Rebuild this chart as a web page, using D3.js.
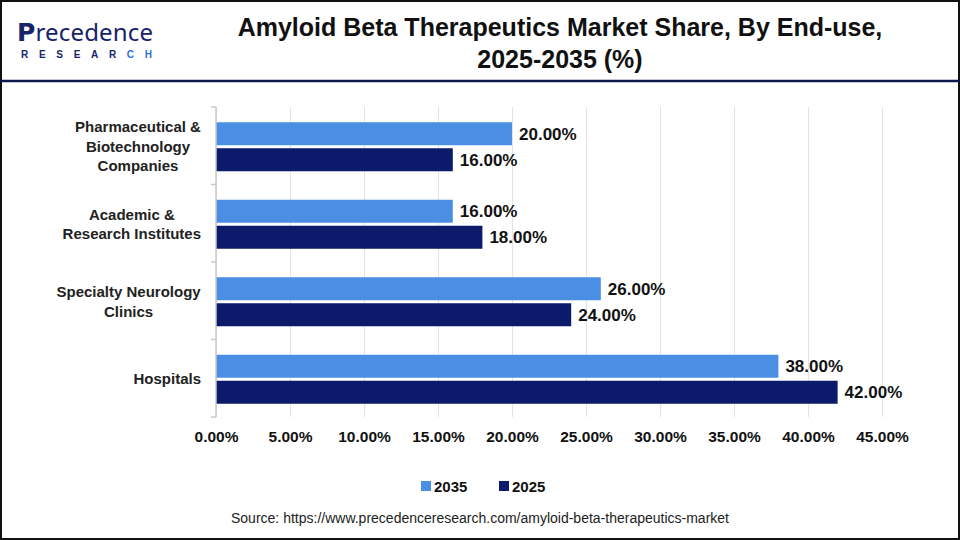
<!DOCTYPE html>
<html lang="en">
<head>
  <meta charset="UTF-8">
  <title>Amyloid Beta Therapeutics Market Share</title>
  <script src="https://d3js.org/d3.v7.min.js"></script>
  <style>
    body { margin: 0; background: #fff; }
    text { font-family: Arial, "Liberation Sans", sans-serif; }
    .gridlines .domain { stroke: none; }
    .gridlines line { stroke: #e3e3e3; }
  </style>
</head>
<body>
  <svg id="svg1" width="960" height="540"></svg>
  <script>
    // data
    const categories = [
      ["Pharmaceutical &", "Biotechnology", "Companies"],
      ["Academic &", "Research Institutes"],
      ["Specialty Neurology", "Clinics"],
      ["Hospitals"]
    ];
    const years = ["2035", "2025"];
    const values2035 = [20, 16, 26, 38];
    const values2025 = [16, 18, 24, 42];
    const tickValues = [0, 5, 10, 15, 20, 25, 30, 35, 40, 45];
    const colors = ["#4a8fe3", "#0c1a6b"];

    let svg1 = d3.select("svg#svg1");
    let width = 960, height = 540;
    let margin = {top: 107, left: 216, right: 78, bottom: 123};
    let chartWidth = width - margin.left - margin.right;   // 666
    let chartHeight = height - margin.top - margin.bottom; // 310

    // frame
    svg1.append("rect").attr("x", 1).attr("y", 1).attr("width", width - 2).attr("height", height - 2)
        .attr("fill", "none").attr("stroke", "#111").attr("stroke-width", 2);
    svg1.append("line").attr("x1", 1).attr("x2", width - 1).attr("y1", 81).attr("y2", 81)
        .attr("stroke", "#0c1a4d").attr("stroke-width", 2.5);

    // logo
    let logo = svg1.append("g").attr("id", "logo");
    let logoTop = logo.append("text").attr("x", 17).attr("y", 41)
        .attr("fill", "#16236b").attr("textLength", 136);
    logoTop.append("tspan").style("font", "bold 25px 'DejaVu Sans', sans-serif").text("P");
    logoTop.append("tspan").style("font", "24px 'Noto Sans', sans-serif").text("recedence");
    let logoBottom = logo.append("text").attr("x", 21).attr("y", 58)
        .style("font", "bold 10px Arial, sans-serif").attr("textLength", 131);
    logoBottom.append("tspan").attr("fill", "#16236b").text("RESEAR");
    logoBottom.append("tspan").attr("fill", "#2f6fd8").text("CH");

    // title
    svg1.append("text").attr("x", 560).attr("y", 36).attr("text-anchor", "middle")
        .style("font", "bold 25px Arial, sans-serif").attr("fill", "#111")
        .text("Amyloid Beta Therapeutics Market Share, By End-use,");
    svg1.append("text").attr("x", 560).attr("y", 68).attr("text-anchor", "middle")
        .style("font", "bold 25px Arial, sans-serif").attr("fill", "#111")
        .text("2025-2035 (%)");

    const xScale = d3.scaleLinear().domain([0, 45]).range([0, chartWidth]);
    const yScale = d3.scaleBand().domain(d3.range(categories.length)).range([0, chartHeight])
                     .paddingInner(0).paddingOuter(0);
    const barH = 23, barGap = 3;

    let chartArea = svg1.append("g").attr("transform", `translate(${margin.left},${margin.top})`);

    // gridlines
    chartArea.append("g").attr("class", "gridlines")
        .attr("transform", `translate(0,${chartHeight})`)
        .call(d3.axisBottom(xScale).tickValues(tickValues).tickFormat("").tickSize(-chartHeight));

    // bars
    const series = [values2035, values2025];
    series.forEach((vals, s) => {
      vals.forEach((v, i) => {
        let y = yScale(i) + (yScale.bandwidth() - 2 * barH - barGap) / 2 + 1 + s * (barH + barGap);
        chartArea.append("rect")
            .attr("x", 0).attr("y", y)
            .attr("width", xScale(v)).attr("height", barH)
            .attr("fill", colors[s]);
        chartArea.append("text")
            .attr("x", xScale(v) + 7).attr("y", y + barH / 2 + 6)
            .style("font", "bold 17px Arial, sans-serif").attr("fill", "#111")
            .text(v.toFixed(2) + "%");
      });
    });

    // y axis
    let leftAxis = chartArea.append("g");
    leftAxis.append("line").attr("x1", 0).attr("x2", 0).attr("y1", 0).attr("y2", chartHeight)
        .attr("stroke", "#c8c8c8").attr("stroke-width", 1.5);
    d3.range(categories.length + 1).forEach(i => {
      let y = i < categories.length ? yScale(i) : chartHeight;
      leftAxis.append("line").attr("x1", -5).attr("x2", 0).attr("y1", y).attr("y2", y)
          .attr("stroke", "#c8c8c8").attr("stroke-width", 1.5);
    });
    categories.forEach((lines, i) => {
      let cy = yScale(i) + yScale.bandwidth() / 2;
      let lh = 19.5;
      let t = leftAxis.append("text").attr("text-anchor", "middle")
          .style("font", "bold 15px Arial, sans-serif").attr("fill", "#222");
      lines.forEach((ln, j) => {
        t.append("tspan").attr("x", 0)
         .attr("y", cy - (lines.length - 1) * lh / 2 + j * lh + 6)
         .text(ln);
      });
      // block right-aligned, lines centred within it
      let w = t.node().getBBox().width;
      t.selectAll("tspan").attr("x", -15 - w / 2);
    });

    // x axis labels
    chartArea.append("g")
        .attr("transform", `translate(0,${chartHeight})`)
        .call(d3.axisBottom(xScale).tickValues(tickValues).tickSize(0).tickPadding(14)
              .tickFormat(d => d.toFixed(2) + "%"))
        .call(g => g.select(".domain").remove())
        .selectAll("text")
        .style("font", "bold 15.5px Arial, sans-serif").attr("fill", "#111");

    // legend
    let legend = svg1.append("g").attr("transform", "translate(0,486)");
    [[421, 0], [499, 1]].forEach(([x, s]) => {
      legend.append("rect").attr("x", x).attr("y", -5).attr("width", 10).attr("height", 10)
          .attr("fill", colors[s]);
      legend.append("text").attr("x", x + 13).attr("y", 6)
          .style("font", "bold 15px Arial, sans-serif").attr("fill", "#111").text(years[s]);
    });

    // source
    svg1.append("text").attr("x", 480).attr("y", 523).attr("text-anchor", "middle")
        .style("font", "14px Arial, sans-serif").attr("fill", "#222")
        .text("Source: https://www.precedenceresearch.com/amyloid-beta-therapeutics-market");
  </script>
</body>
</html>
